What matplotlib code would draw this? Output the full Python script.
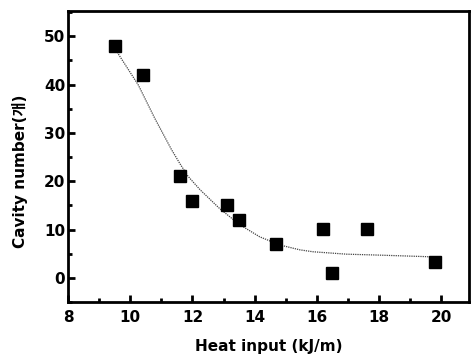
import numpy as np
import matplotlib
matplotlib.use("Agg")
import matplotlib.pyplot as plt
from matplotlib.ticker import MultipleLocator

plt.rcParams['font.family'] = ['DejaVu Sans', 'Noto Sans CJK KR']
plt.rcParams['font.weight'] = 'bold'

# measured points
heat_input = [9.5, 10.4, 11.6, 12.0, 13.1, 13.5, 14.7, 16.2, 16.5, 17.6, 19.8]
cavity_num = [48, 42, 21, 16, 15, 12, 7, 10.2, 1, 10.2, 3.3]

# fitted trend curve
fit_x = [9.5, 9.61, 10.26, 10.79, 11.33, 11.6, 11.86, 12.25, 12.88, 13.52, 14.16,
         14.81, 15.45, 15.87, 16.95, 18.02, 19.46, 19.8]
fit_y = [48.0, 46.4, 39.9, 33.0, 26.5, 23.6, 21.0, 18.2, 14.3, 11.0, 8.5,
         6.8, 5.8, 5.4, 4.9, 4.7, 4.4, 4.3]

fig = plt.figure(figsize=(4.71, 3.58), dpi=100)
ax = fig.add_axes([0.1444, 0.1564, 0.852, 0.8126])

ax.plot(fit_x, fit_y, color='#444444', lw=0.9, ls=(0, (1, 0.8)))
ax.plot(heat_input, cavity_num, 's', color='black', ms=8.5)

ax.set_xlim(8, 20.9)
ax.set_ylim(-5, 55.2)
ax.xaxis.set_major_locator(MultipleLocator(2))
ax.xaxis.set_minor_locator(MultipleLocator(1))
ax.yaxis.set_major_locator(MultipleLocator(10))
ax.yaxis.set_minor_locator(MultipleLocator(5))
ax.tick_params(which='both', direction='in', width=2, labelsize=11)
ax.tick_params(which='major', length=5)
ax.tick_params(which='minor', length=3)
ax.tick_params(axis='x', which='major', pad=6)
ax.tick_params(axis='y', which='major', pad=2)
for s in ax.spines.values():
    s.set_linewidth(2)

ax.set_xlabel("Heat input (kJ/m)", fontsize=11, fontweight='bold', labelpad=10)
ax.set_ylabel("Cavity number(개)", fontsize=11, fontweight='bold')
ax.yaxis.set_label_coords(-0.10, 0.45)

fig.savefig("out.png", dpi=100)
